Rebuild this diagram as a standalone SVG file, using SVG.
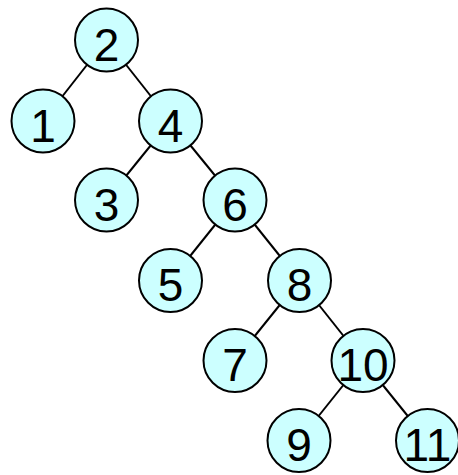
<svg xmlns="http://www.w3.org/2000/svg" width="458" height="475" viewBox="0 0 458 475">
<style>
.n circle{fill:#ccffff;stroke:#000;stroke-width:2}
.n text{font-family:"Liberation Sans",Arial,sans-serif;font-size:46px;text-anchor:middle;fill:#000}
#edges line{stroke:#000;stroke-width:2}
</style>
<rect width="458" height="475" fill="#fff"/>
<g id="edges">
<line x1="106.5" y1="40" x2="43" y2="121"/>
<line x1="106.5" y1="40" x2="170.5" y2="121"/>
<line x1="170.5" y1="121" x2="106.5" y2="200"/>
<line x1="170.5" y1="121" x2="235" y2="200"/>
<line x1="235" y1="200" x2="170.5" y2="280.5"/>
<line x1="235" y1="200" x2="299.5" y2="280.5"/>
<line x1="299.5" y1="280.5" x2="235" y2="360.5"/>
<line x1="299.5" y1="280.5" x2="363" y2="360.5"/>
<line x1="363" y1="360.5" x2="299" y2="440.5"/>
<line x1="363" y1="360.5" x2="427.5" y2="440.5"/>
</g>
<g id="n2" class="n"><circle cx="106.5" cy="40" r="31.5"/><text x="106.5" y="60.5">2</text></g>
<g id="n1" class="n"><circle cx="43" cy="121" r="31.5"/><text x="43" y="141.5">1</text></g>
<g id="n4" class="n"><circle cx="170.5" cy="121" r="31.5"/><text x="170.5" y="141.5">4</text></g>
<g id="n3" class="n"><circle cx="106.5" cy="200" r="31.5"/><text x="106.5" y="220.5">3</text></g>
<g id="n6" class="n"><circle cx="235" cy="200" r="31.5"/><text x="235" y="220.5">6</text></g>
<g id="n5" class="n"><circle cx="170.5" cy="280.5" r="31.5"/><text x="170.5" y="301">5</text></g>
<g id="n8" class="n"><circle cx="299.5" cy="280.5" r="31.5"/><text x="299.5" y="301">8</text></g>
<g id="n7" class="n"><circle cx="235" cy="360.5" r="31.5"/><text x="235" y="381">7</text></g>
<g id="n10" class="n"><circle cx="363" cy="360.5" r="31.5"/><text x="363" y="381">10</text></g>
<g id="n9" class="n"><circle cx="299" cy="440.5" r="31.5"/><text x="299" y="461">9</text></g>
<g id="n11" class="n"><circle cx="427.5" cy="440.5" r="31.5"/><text x="427.5" y="461">11</text></g>
</svg>
